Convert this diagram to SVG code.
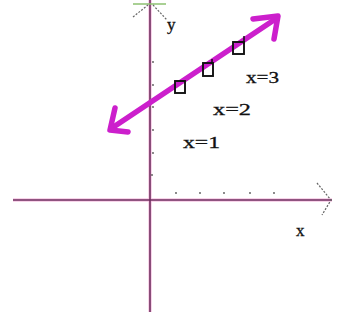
<svg xmlns="http://www.w3.org/2000/svg" width="339" height="320" viewBox="0 0 339 320">
<style>
.axis{stroke:#6e2a5c;stroke-width:1.6;fill:none}
.glow{stroke:#f4b8dc;stroke-width:4;fill:none;opacity:0.6}
.dot{fill:#555}
.line{stroke:#cc1fcc;stroke-width:5.5;fill:none;stroke-linecap:round;stroke-linejoin:round}
.sq{fill:none;stroke:#111;stroke-width:1.9}
.lbl{font-family:"Liberation Serif",serif;font-size:17px;fill:#111;stroke:#111;stroke-width:0.3}
.head{stroke:#666;stroke-width:1.2;fill:none;stroke-dasharray:2 1.5}
</style>
<rect width="339" height="320" fill="#fff"/>
<g id="connectors">
  <line class="glow" x1="150" y1="0" x2="150" y2="312"/>
  <line class="glow" x1="13" y1="200" x2="332" y2="200"/>
  <line class="axis" x1="150" y1="0" x2="150" y2="312"/>
  <line class="axis" x1="13" y1="200" x2="332" y2="200"/>
  <line x1="133" y1="4" x2="166" y2="4" stroke="#8cc070" stroke-width="1.6"/>
  <polyline class="head" points="133,17 148,5"/>
  <polyline class="head" points="153,5 167,20"/>
  <polyline class="head" points="317,183 331,200 322,215"/>
  <line class="line" x1="112" y1="128" x2="277" y2="18"/>
  <polyline class="line" points="115,108 110,130 128,132"/>
  <polyline class="line" points="253,19 278,16 274,39"/>
</g>
<g id="ticks">
  <circle class="dot" cx="176" cy="193" r="0.9"/>
  <circle class="dot" cx="200" cy="193" r="0.9"/>
  <circle class="dot" cx="224" cy="193" r="0.9"/>
  <circle class="dot" cx="250" cy="193" r="0.9"/>
  <circle class="dot" cx="274" cy="193" r="0.9"/>
  <circle class="dot" cx="153" cy="62" r="0.9"/>
  <circle class="dot" cx="153" cy="85" r="0.9"/>
  <circle class="dot" cx="153" cy="107" r="0.9"/>
  <circle class="dot" cx="153" cy="130" r="0.9"/>
  <circle class="dot" cx="153" cy="153" r="0.9"/>
  <circle class="dot" cx="152" cy="175" r="0.9"/>
</g>
<g id="p1"><rect class="sq" x="175" y="81" width="10" height="12"/></g>
<g id="p2"><rect class="sq" x="203" y="63" width="10" height="13"/><line x1="212" y1="59" x2="212" y2="64" stroke="#111" stroke-width="1.5"/></g>
<g id="p3"><rect class="sq" x="233" y="42" width="11" height="12"/><line x1="244" y1="36" x2="244" y2="44" stroke="#111" stroke-width="1.5"/></g>
<g id="labels">
  <text class="lbl" x="167" y="30">y</text>
  <text class="lbl" x="296" y="236">x</text>
  <text class="lbl" x="246" y="83" textLength="33" lengthAdjust="spacingAndGlyphs">x=3</text>
  <text class="lbl" x="213" y="115" textLength="38" lengthAdjust="spacingAndGlyphs">x=2</text>
  <text class="lbl" x="183" y="148" textLength="37" lengthAdjust="spacingAndGlyphs">x=1</text>
</g>
</svg>
